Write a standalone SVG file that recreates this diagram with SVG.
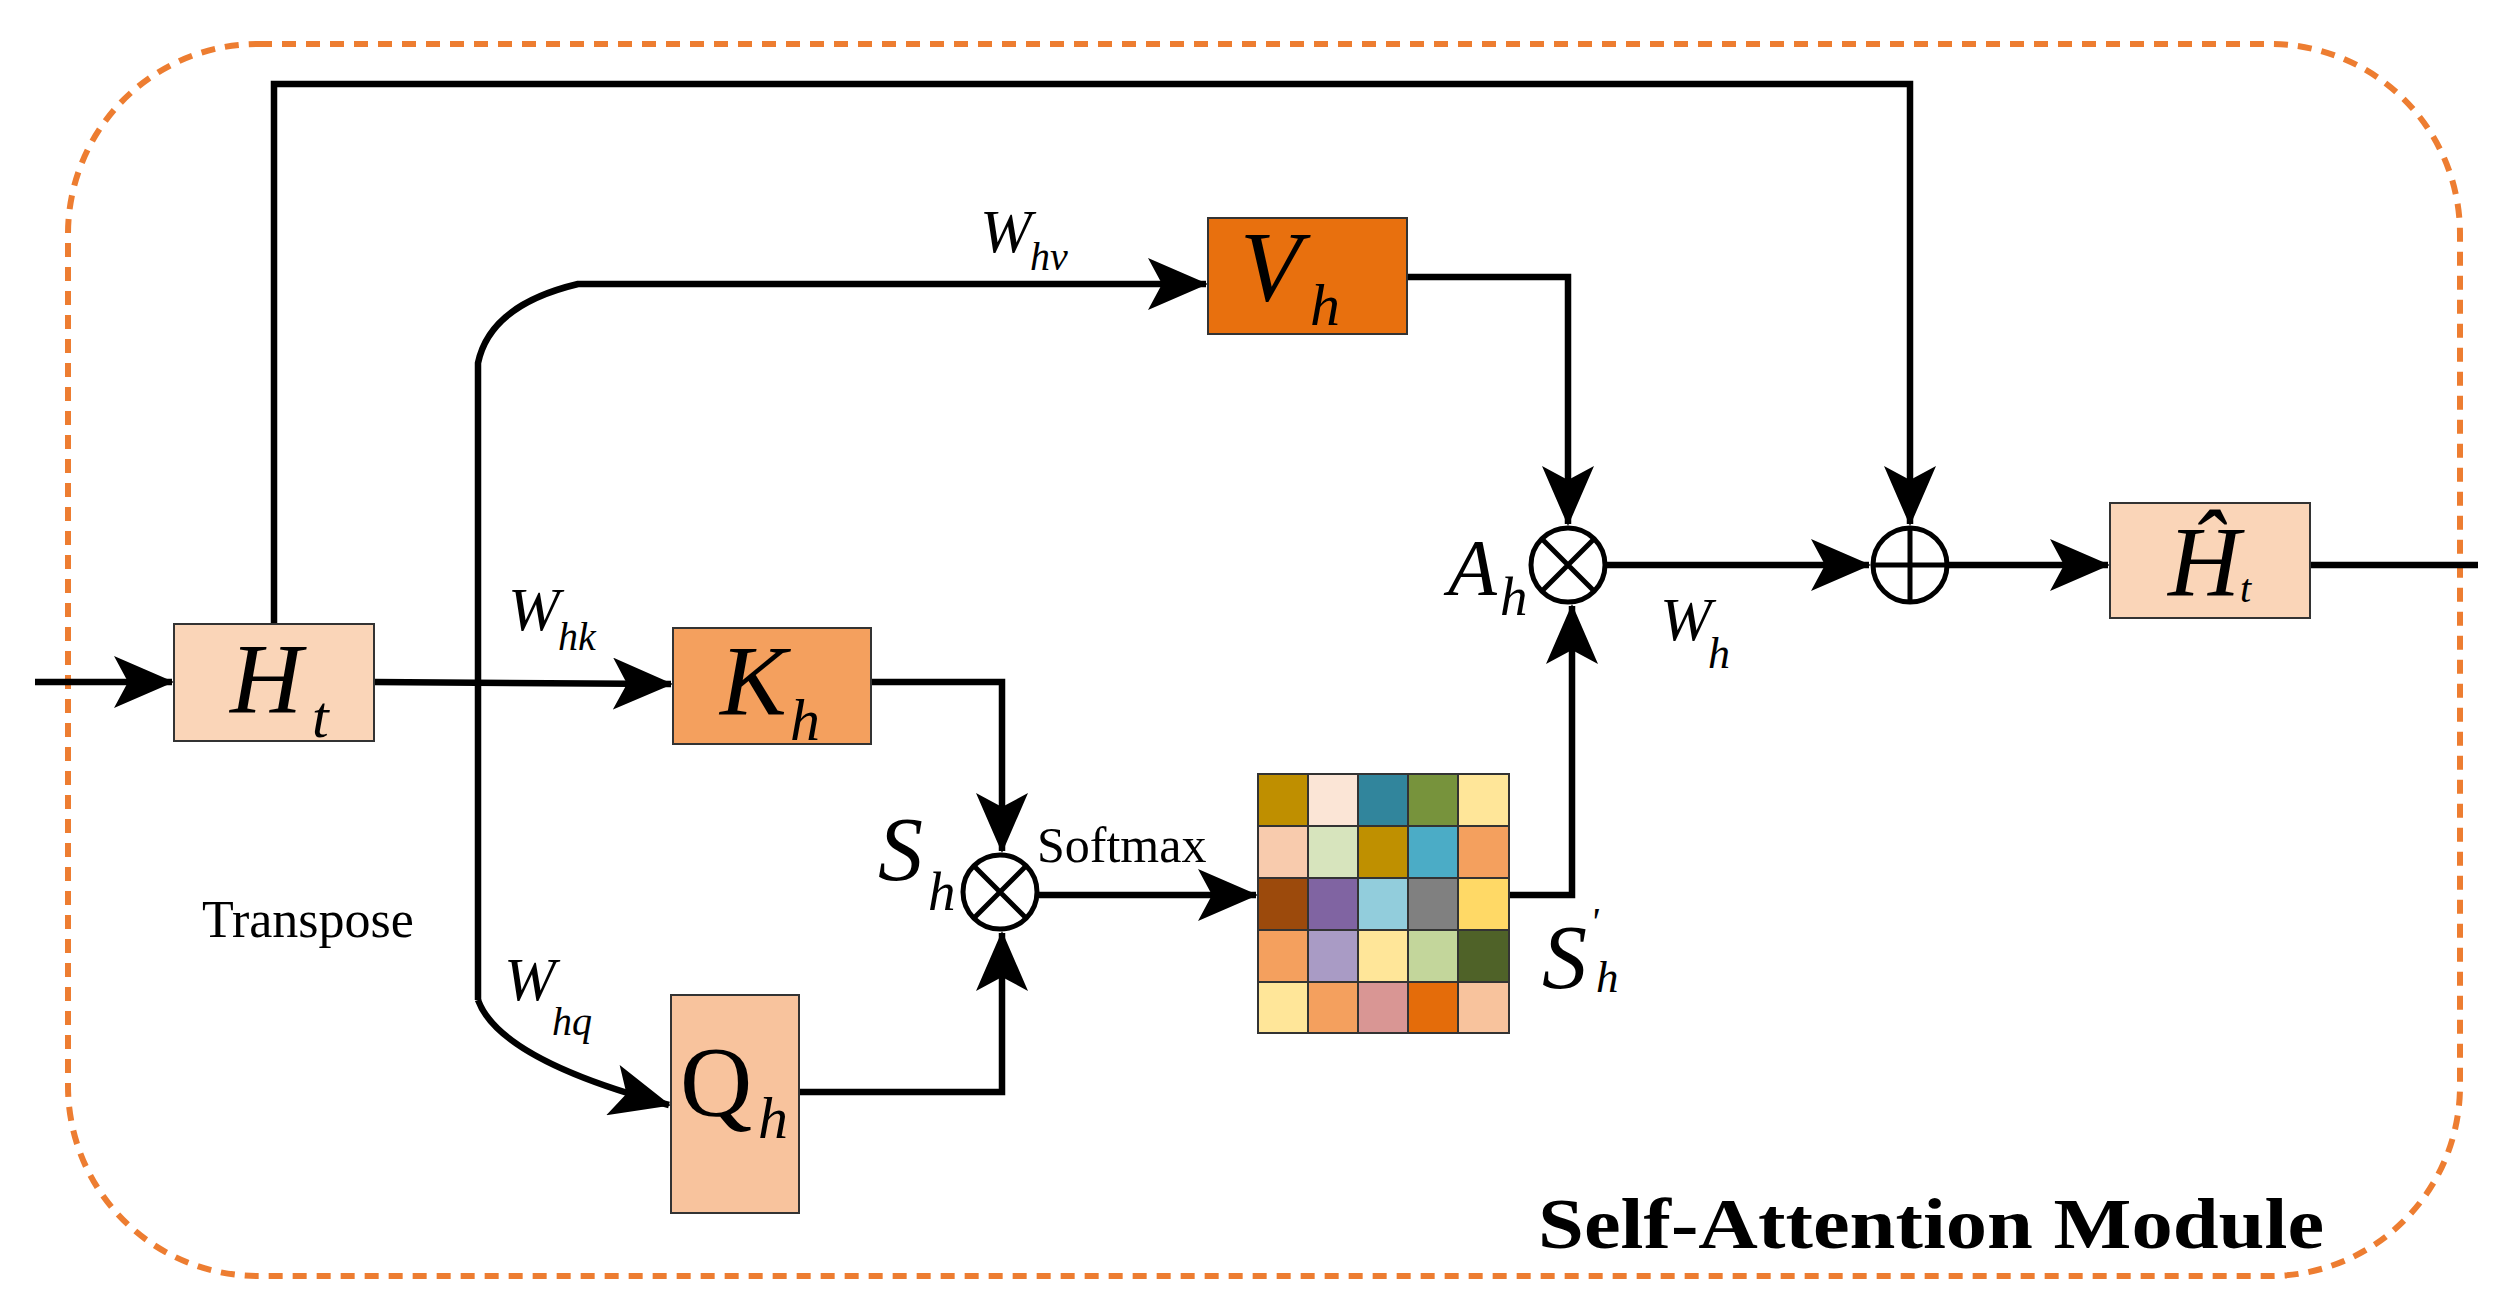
<svg xmlns="http://www.w3.org/2000/svg" width="2504" height="1296" viewBox="0 0 2504 1296">
<defs>
<marker id="ar" markerUnits="userSpaceOnUse" markerWidth="60" markerHeight="52" refX="58" refY="26" orient="auto">
<path d="M0,0 L60,26 L0,52 L14,26 Z" fill="#000"/>
</marker>
<style>
.ln{fill:none;stroke:#000;stroke-width:6.5}
.bx{stroke:#333;stroke-width:2}
.it{font-family:"Liberation Serif",serif;font-style:italic;fill:#000}
.rm{font-family:"Liberation Serif",serif;fill:#000}
.op{fill:#fff;stroke:#000;stroke-width:5}
.cell{stroke:#333;stroke-width:2}
</style>
</defs>
<rect width="2504" height="1296" fill="#fff"/>
<rect x="68" y="44" width="2392" height="1232" rx="190" fill="none" stroke="#ED7D31" stroke-width="6" stroke-dasharray="14,10"/>

<g id="connectors">
<path class="ln" d="M35,682 L172,682" marker-end="url(#ar)"/>
<path class="ln" d="M274,624 L274,84 L1910,84 L1910,524" marker-end="url(#ar)"/>
<path class="ln" d="M374,682 L671,684" marker-end="url(#ar)"/>
<path class="ln" d="M478,1000 L478,363 Q490,305 578,284 L1206,284" marker-end="url(#ar)"/>
<path class="ln" d="M478,1000 Q500,1060 669,1105" marker-end="url(#ar)"/>
<path class="ln" d="M871,682 L1002,682 L1002,851" marker-end="url(#ar)"/>
<path class="ln" d="M799,1092 L1002,1092 L1002,933" marker-end="url(#ar)"/>
<path class="ln" d="M1039,895 L1256,895" marker-end="url(#ar)"/>
<path class="ln" d="M1509,895 L1572,895 L1572,606" marker-end="url(#ar)"/>
<path class="ln" d="M1407,277 L1568,277 L1568,524" marker-end="url(#ar)"/>
<path class="ln" d="M1607,565 L1869,565" marker-end="url(#ar)"/>
<path class="ln" d="M1949,565 L2108,565" marker-end="url(#ar)"/>
<path class="ln" d="M2310,565 L2478,565"/>
</g>

<g id="Ht"><rect class="bx" x="174" y="624" width="200" height="117" fill="#FAD5B8"/>
<text class="it" x="230" y="712" font-size="100">H</text><text class="it" x="312" y="737" font-size="60">t</text></g>
<g id="Kh"><rect class="bx" x="673" y="628" width="198" height="116" fill="#F4A05E"/>
<text class="it" x="720" y="714" font-size="100">K</text><text class="it" x="790" y="740" font-size="60">h</text></g>
<g id="Qh"><rect class="bx" x="671" y="995" width="128" height="218" fill="#F8C39D"/>
<text class="rm" x="680" y="1115" font-size="100">Q</text><text class="it" x="758" y="1138" font-size="60">h</text></g>
<g id="Vh"><rect class="bx" x="1208" y="218" width="199" height="116" fill="#E8700E"/>
<text class="it" x="1240" y="300" font-size="100">V</text><text class="it" x="1310" y="325" font-size="60">h</text></g>
<g id="Hhat"><rect class="bx" x="2110" y="503" width="200" height="115" fill="#FAD5B8"/>
<text class="it" x="2168" y="595" font-size="100">Ĥ</text><text class="it" x="2240" y="602" font-size="40">t</text></g>

<g id="Sh"><circle class="op" cx="1000" cy="892" r="37"/>
<path d="M974,866 L1026,918 M1026,866 L974,918" stroke="#000" stroke-width="5"/>
<text class="it" x="878" y="880" font-size="90">S</text><text class="it" x="928" y="910" font-size="55">h</text></g>
<g id="Ah"><circle class="op" cx="1568" cy="565" r="37"/>
<path d="M1542,539 L1594,591 M1594,539 L1542,591" stroke="#000" stroke-width="5"/>
<text class="it" x="1448" y="595" font-size="80">A</text><text class="it" x="1500" y="615" font-size="55">h</text></g>
<g id="plus"><circle class="op" cx="1910" cy="565" r="37"/>
<path d="M1873,565 L1947,565 M1910,528 L1910,602" stroke="#000" stroke-width="5"/></g>

<g id="matrix">
<rect class="cell" x="1258" y="774" width="50" height="52" fill="#BF8F00"/><rect class="cell" x="1308" y="774" width="50" height="52" fill="#FBE5D6"/><rect class="cell" x="1358" y="774" width="50" height="52" fill="#31859C"/><rect class="cell" x="1408" y="774" width="50" height="52" fill="#77933C"/><rect class="cell" x="1458" y="774" width="51" height="52" fill="#FFE699"/>
<rect class="cell" x="1258" y="826" width="50" height="52" fill="#F8CBAD"/><rect class="cell" x="1308" y="826" width="50" height="52" fill="#D7E4BD"/><rect class="cell" x="1358" y="826" width="50" height="52" fill="#BF9000"/><rect class="cell" x="1408" y="826" width="50" height="52" fill="#4BACC6"/><rect class="cell" x="1458" y="826" width="51" height="52" fill="#F4A05E"/>
<rect class="cell" x="1258" y="878" width="50" height="52" fill="#9C4A0C"/><rect class="cell" x="1308" y="878" width="50" height="52" fill="#8064A2"/><rect class="cell" x="1358" y="878" width="50" height="52" fill="#92CDDC"/><rect class="cell" x="1408" y="878" width="50" height="52" fill="#808080"/><rect class="cell" x="1458" y="878" width="51" height="52" fill="#FFD966"/>
<rect class="cell" x="1258" y="930" width="50" height="52" fill="#F4A05E"/><rect class="cell" x="1308" y="930" width="50" height="52" fill="#A99BC5"/><rect class="cell" x="1358" y="930" width="50" height="52" fill="#FFE699"/><rect class="cell" x="1408" y="930" width="50" height="52" fill="#C3D69B"/><rect class="cell" x="1458" y="930" width="51" height="52" fill="#4F6228"/>
<rect class="cell" x="1258" y="982" width="50" height="51" fill="#FFE699"/><rect class="cell" x="1308" y="982" width="50" height="51" fill="#F4A05E"/><rect class="cell" x="1358" y="982" width="50" height="51" fill="#D99694"/><rect class="cell" x="1408" y="982" width="50" height="51" fill="#E46C0A"/><rect class="cell" x="1458" y="982" width="51" height="51" fill="#F8C39D"/>
</g>

<g id="labels">
<text class="it" x="980" y="252" font-size="62">W</text><text class="it" x="1030" y="270" font-size="40">hv</text>
<text class="it" x="508" y="630" font-size="62">W</text><text class="it" x="558" y="650" font-size="40">hk</text>
<text class="it" x="504" y="1000" font-size="62">W</text><text class="it" x="552" y="1035" font-size="40">hq</text>
<text class="it" x="1660" y="640" font-size="62">W</text><text class="it" x="1708" y="668" font-size="44">h</text>
<text class="rm" x="202" y="937" font-size="52">Transpose</text>
<text class="rm" x="1037" y="862" font-size="50">Softmax</text>
<text class="it" x="1542" y="988" font-size="90">S</text><text class="it" x="1590" y="935" font-size="40">'</text><text class="it" x="1596" y="992" font-size="45">h</text>
<text x="1538" y="1248" font-family="Liberation Serif,serif" font-weight="bold" font-size="72" textLength="786" lengthAdjust="spacingAndGlyphs">Self-Attention Module</text>
</g>
</svg>
